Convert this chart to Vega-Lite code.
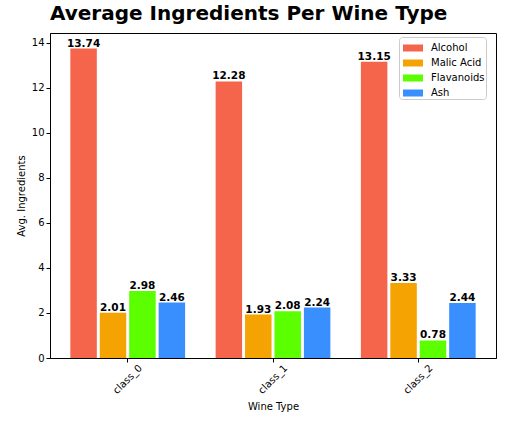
{
  "$schema": "https://vega.github.io/schema/vega-lite/v6.json",
  "width": 446,
  "height": 325,
  "autosize": {"type": "none"},
  "padding": {"left": 50, "top": 33, "right": 31, "bottom": 77},
  "background": "white",
  "title": {
    "text": "Average Ingredients Per Wine Type",
    "anchor": "start",
    "frame": "group",
    "font": "DejaVu Sans",
    "fontSize": 20,
    "fontWeight": "bold",
    "color": "black",
    "offset": 9
  },
  "data": {
    "values": [
      {"wine_type": "class_0", "ingredient": "Alcohol", "value": 13.74},
      {"wine_type": "class_0", "ingredient": "Malic Acid", "value": 2.01},
      {"wine_type": "class_0", "ingredient": "Flavanoids", "value": 2.98},
      {"wine_type": "class_0", "ingredient": "Ash", "value": 2.46},
      {"wine_type": "class_1", "ingredient": "Alcohol", "value": 12.28},
      {"wine_type": "class_1", "ingredient": "Malic Acid", "value": 1.93},
      {"wine_type": "class_1", "ingredient": "Flavanoids", "value": 2.08},
      {"wine_type": "class_1", "ingredient": "Ash", "value": 2.24},
      {"wine_type": "class_2", "ingredient": "Alcohol", "value": 13.15},
      {"wine_type": "class_2", "ingredient": "Malic Acid", "value": 3.33},
      {"wine_type": "class_2", "ingredient": "Flavanoids", "value": 0.78},
      {"wine_type": "class_2", "ingredient": "Ash", "value": 2.44}
    ]
  },
  "encoding": {
    "x": {
      "field": "wine_type",
      "type": "nominal",
      "scale": {"paddingInner": 0.21, "paddingOuter": 0.14},
      "axis": {
        "title": "Wine Type",
        "labelAngle": -45,
        "labelAlign": "center",
        "labelBaseline": "middle",
        "labelPadding": 17,
        "titlePadding": 6
      }
    },
    "xOffset": {
      "field": "ingredient",
      "sort": ["Alcohol", "Malic Acid", "Flavanoids", "Ash"],
      "scale": {"paddingInner": 0.1}
    },
    "y": {
      "field": "value",
      "type": "quantitative",
      "scale": {"domain": [0, 14.43], "nice": false},
      "axis": {
        "title": "Avg. Ingredients",
        "values": [0, 2, 4, 6, 8, 10, 12, 14],
        "titlePadding": 5
      }
    }
  },
  "layer": [
    {
      "mark": {"type": "bar"},
      "encoding": {
        "color": {
          "field": "ingredient",
          "type": "nominal",
          "sort": ["Alcohol", "Malic Acid", "Flavanoids", "Ash"],
          "scale": {
            "domain": ["Alcohol", "Malic Acid", "Flavanoids", "Ash"],
            "range": ["#F4654B", "#F5A302", "#5BFF00", "#3A8FFF"]
          },
          "legend": {
            "title": null,
            "orient": "none",
            "legendX": 349,
            "legendY": 4,
            "symbolType": "M-1,-0.35H1V0.35H-1Z",
            "symbolSize": 400,
            "symbolStrokeWidth": 0,
            "symbolOpacity": 1,
            "symbolOffset": 3,
            "labelOffset": 8,
            "labelFontSize": 10,
            "labelColor": "black",
            "rowPadding": -5,
            "padding": 1,
            "fillColor": "white",
            "strokeColor": "#cccccc",
            "cornerRadius": 3
          }
        }
      }
    },
    {
      "mark": {
        "type": "text",
        "baseline": "bottom",
        "dy": 0,
        "fontSize": 10.5,
        "fontWeight": "bold",
        "color": "black"
      },
      "encoding": {
        "text": {"field": "value", "type": "quantitative", "format": ".2f"}
      }
    }
  ],
  "config": {
    "font": "DejaVu Sans",
    "view": {"stroke": "black", "strokeWidth": 1},
    "axis": {
      "grid": false,
      "domainColor": "black",
      "tickColor": "black",
      "tickSize": 4,
      "labelColor": "black",
      "labelFontSize": 10,
      "labelFont": "DejaVu Sans",
      "titleFont": "DejaVu Sans",
      "titleFontSize": 10,
      "titleFontWeight": "normal",
      "titleColor": "black"
    },
    "legend": {"labelFont": "DejaVu Sans"}
  }
}
